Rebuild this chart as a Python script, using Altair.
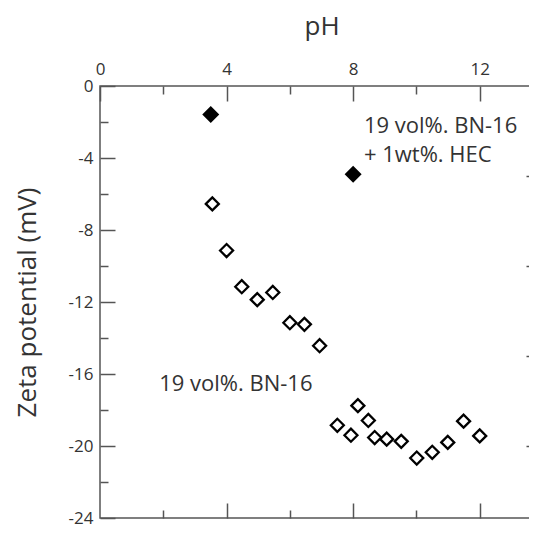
import altair as alt
import pandas as pd

# 19 vol%. BN-16 (open diamonds)
ph_bn16 = [3.55, 4.0, 4.48, 4.97, 5.46, 6.0, 6.46, 6.94, 7.5, 7.93, 8.15, 8.48,
           8.68, 9.06, 9.52, 10.01, 10.5, 10.99, 11.49, 12.0]
zeta_bn16 = [-6.55, -9.14, -11.15, -11.87, -11.47, -13.15, -13.24, -14.43, -18.85,
             -19.4, -17.76, -18.58, -19.53, -19.62, -19.74, -20.67, -20.35, -19.8,
             -18.62, -19.44]

# 19 vol%. BN-16 + 1wt%. HEC (filled diamonds)
ph_hec = [3.5, 8.0]
zeta_hec = [-1.59, -4.9]

# annotations
upper_text = ["19 vol%. BN-16", "+ 1wt%. HEC"]
upper_ph = [8.34, 8.34]
upper_zeta = [-2.24, -3.83]
lower_text = ["19 vol%. BN-16"]
lower_ph = [1.87]
lower_zeta = [-16.55]

# axis tick values
x_major = [0, 4, 8, 12]
x_minor = [2, 6, 10]
y_major = [0, -4, -8, -12, -16, -20, -24]
y_minor = [-2, -6, -10, -14, -18, -22]
y_right_major = [-5, -10, -15, -20]
y_right_minor = [-2.5, -7.5, -12.5, -17.5, -22.5]

df_open = pd.DataFrame({"pH": ph_bn16, "zeta": zeta_bn16})
df_fill = pd.DataFrame({"pH": ph_hec, "zeta": zeta_hec})
df_up = pd.DataFrame({"pH": upper_ph, "zeta": upper_zeta, "t": upper_text})
df_low = pd.DataFrame({"pH": lower_ph, "zeta": lower_zeta, "t": lower_text})

xs = alt.Scale(domain=[0, 14], nice=False, zero=False)
ys = alt.Scale(domain=[-24, 0], nice=False, zero=False)


def tick_axis(orient, values, size, **kw):
    return alt.Axis(orient=orient, values=values, tickSize=size, offset=-size,
                    domain=False, grid=False, labelFlush=False, **kw)


def bare_axis(orient, values, size):
    return tick_axis(orient, values, size, labels=False, title=None)


open_pts = alt.Chart(df_open).mark_point(
    shape="diamond", filled=False, size=169, strokeWidth=2.3, color="black", opacity=1
).encode(
    x=alt.X("pH:Q", scale=xs, axis=tick_axis(
        "top", x_major, 15, labelPadding=8, labelFontSize=17,
        labelExpr="'' + datum.value", title="pH", titleFontSize=26, titlePadding=21)),
    y=alt.Y("zeta:Q", scale=ys, axis=tick_axis(
        "left", y_major, 15, labelPadding=7, labelFontSize=17,
        labelExpr="'' + datum.value", title="Zeta potential (mV)",
        titleFontSize=26, titlePadding=28)),
)

fill_pts = alt.Chart(df_fill).mark_point(
    shape="diamond", filled=True, size=289, color="black", opacity=1
).encode(
    x=alt.X("pH:Q", scale=xs, axis=bare_axis("top", x_minor, 8)),
    y=alt.Y("zeta:Q", scale=ys, axis=bare_axis("left", y_minor, 8)),
)

low_txt = alt.Chart(df_low).mark_text(
    align="left", baseline="middle", font="Open Sans", fontSize=22, color="#333"
).encode(
    x=alt.X("pH:Q", scale=xs, axis=bare_axis("bottom", [4, 8, 12], 15)),
    y=alt.Y("zeta:Q", scale=ys, axis=bare_axis("right", y_right_major, 17)),
    text="t:N",
)

up_txt = alt.Chart(df_up).mark_text(
    align="left", baseline="middle", font="Open Sans", fontSize=22, color="#333"
).encode(
    x=alt.X("pH:Q", scale=xs, axis=bare_axis("bottom", x_minor, 8)),
    y=alt.Y("zeta:Q", scale=ys, axis=bare_axis("right", y_right_minor, 10)),
    text="t:N",
)

chart = alt.layer(open_pts, fill_pts, low_txt, up_txt).resolve_axis(
    x="independent", y="independent"
).properties(
    width=443, height=432,
    autosize=alt.AutoSizeParams(type="none"),
    padding={"left": 92, "top": 78, "right": -14, "bottom": 9},
).configure_view(
    stroke="#555", strokeWidth=1.5
).configure_axis(
    labelFont="Open Sans", titleFont="Open Sans", titleFontWeight="normal",
    labelColor="#333", titleColor="#333", tickColor="#555", tickWidth=1.5
)

chart.save("out.html", embed_options={"renderer": "svg", "actions": False})
